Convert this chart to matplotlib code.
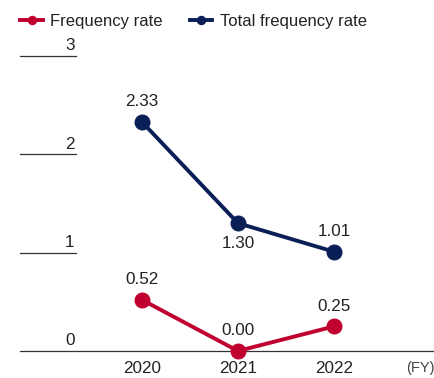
import matplotlib.pyplot as plt

plt.rcParams['font.family'] = ['Liberation Sans', 'DejaVu Sans']

years = [2020, 2021, 2022]
freq_rate = [0.52, 0.00, 0.25]
total_freq_rate = [2.33, 1.30, 1.01]
y_ticks = [0, 1, 2, 3]

red = '#C0002F'
navy = '#0B1F57'
txt = '#222222'
fs = 12.3

fig = plt.figure(figsize=(4.35, 3.78), dpi=100)
ax = fig.add_axes([0, 0, 1, 1])
ax.set_xlim(2018.521, 2023.052)
ax.set_ylim(-0.275, 3.571)
ax.axis('off')

# short gridlines with labels sitting on top, full-width baseline at zero
x_line0, x_line1 = 2018.521 + 20 / 96, 2018.521 + 76 / 96
for t in y_ticks:
    x_end = 2023.052 if t == 0 else x_line1
    ax.plot([x_line0, x_end], [t, t], color='#333333', lw=0.9, clip_on=False)
    ax.annotate(str(t), (x_line1, t), xytext=(-1, 2), textcoords='offset points',
                ha='right', va='bottom', fontsize=fs, color=txt)

for yr in years:
    ax.annotate(str(yr), (yr, 0), xytext=(0, -7.5), textcoords='offset points',
                ha='center', va='top', fontsize=fs, color=txt)
ax.annotate('(FY)', (2018.521 + 420 / 96, 0), xytext=(0, -7.5), textcoords='offset points',
            ha='center', va='top', fontsize=10.5, color='#444444')

ax.plot(years, freq_rate, color=red, lw=2.8, marker='o', ms=10.5,
        label='Frequency rate', clip_on=False, zorder=3)
ax.plot(years, total_freq_rate, color=navy, lw=2.8, marker='o', ms=10.5,
        label='Total frequency rate', clip_on=False, zorder=3)

for yr, v in zip(years, freq_rate):
    ax.annotate(f'{v:.2f}', (yr, v), xytext=(0, 9), textcoords='offset points',
                ha='center', va='bottom', fontsize=fs, color=txt)

total_below = [False, True, False]
for yr, v, below in zip(years, total_freq_rate, total_below):
    off = -9 if below else 9
    ax.annotate(f'{v:.2f}', (yr, v), xytext=(0, off), textcoords='offset points',
                ha='center', va='top' if below else 'bottom', fontsize=fs, color=txt)

leg = ax.legend(loc='upper left', bbox_to_anchor=(0.02, 0.993), ncol=2, frameon=False,
                fontsize=12, handlelength=1.35, handletextpad=0.45, columnspacing=1.6,
                markerscale=0.55, borderaxespad=0.3)
for t in leg.get_texts():
    t.set_color(txt)

fig.savefig('out.png', dpi=100)
